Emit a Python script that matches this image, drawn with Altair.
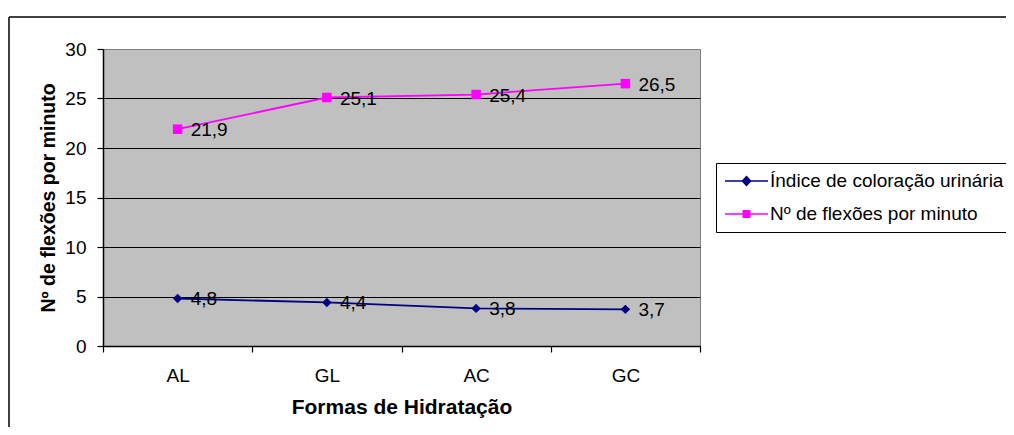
import altair as alt
import pandas as pd

# ---- data ----
categories = ["AL", "GL", "AC", "GC"]
series_names = ["Índice de coloração urinária", "Nº de flexões por minuto"]
indice_values = [4.8, 4.4, 3.8, 3.7]
flexoes_values = [21.9, 25.1, 25.4, 26.5]
y_ticks = [0, 5, 10, 15, 20, 25, 30]
colors = ["#000080", "#FF00FF"]
point_shapes = ["diamond", "square"]

rows = []
for name, vals in zip(series_names, [indice_values, flexoes_values]):
    for c, v in zip(categories, vals):
        rows.append({"cat": c, "serie": name, "valor": v,
                     "rotulo": f"{v:.1f}".replace(".", ",")})
df = pd.DataFrame(rows)

FONT = "Liberation Sans"

# legend symbols: line stub + (filled-looking) marker, in unit coords
diamond_leg = ("M-1,0H1"
               "M-0.19,0L0,-0.2L0.19,0L0,0.2Z"
               "M-0.13,0L0,-0.14L0.13,0L0,0.14Z"
               "M-0.07,0L0,-0.08L0.07,0L0,0.08Z"
               "M-0.02,0L0,-0.02L0.02,0L0,0.02Z")
square_leg = ("M-1,0H1"
              "M-0.15,-0.15H0.15V0.15H-0.15Z"
              "M-0.09,-0.09H0.09V0.09H-0.09Z"
              "M-0.03,-0.03H0.03V0.03H-0.03Z")

x_enc = alt.X(
    "cat:N", sort=categories,
    scale=alt.Scale(type="band", paddingInner=0, paddingOuter=0),
    axis=alt.Axis(title="Formas de Hidratação", labelAngle=0, tickBand="extent",
                  domainColor="black", domainWidth=1.5, tickColor="black",
                  tickSize=6, tickWidth=1.2, labelFont=FONT, labelFontSize=19,
                  labelColor="black", labelPadding=14, titleFont=FONT,
                  titleFontSize=21, titleFontWeight="bold", titleColor="black",
                  titlePadding=11, grid=False),
)
y_enc = alt.Y(
    "valor:Q",
    scale=alt.Scale(domain=[0, 30], nice=False),
    axis=alt.Axis(values=y_ticks, title="Nº de flexões por minuto", grid=True,
                  gridColor={"condition": {"test": "datum.value === 30", "value": "#808080"},
                             "value": "black"},
                  gridWidth=1.2, domainColor="black", domainWidth=1.5,
                  tickColor="black", tickSize=6, tickWidth=1.2,
                  labelFont=FONT, labelFontSize=19, labelColor="black",
                  labelPadding=11, titleFont=FONT, titleFontSize=19.5,
                  titleFontWeight="bold", titleColor="black", titlePadding=6),
)
color_scale = alt.Scale(domain=series_names, range=colors)

base = alt.Chart(df)
one = alt.Data(values=[{"f": 1}])

frame_top = alt.Chart(one).mark_rule(color="black", strokeWidth=1.5).encode(
    x=alt.value(-94), x2=alt.value(1300), y=alt.value(-32))
frame_left = alt.Chart(one).mark_rule(color="black", strokeWidth=1.5).encode(
    x=alt.value(-94), y=alt.value(-32), y2=alt.value(700))

series_layers = []
for name, col, shp in zip(series_names, colors, point_shapes):
    sub = base.transform_filter(alt.datum.serie == name)
    series_layers.append(sub.mark_line(strokeWidth=1.8, color=col).encode(x=x_enc, y=y_enc))
    series_layers.append(sub.mark_point(filled=True, shape=shp, size=90, opacity=1,
                                        color=col).encode(x=x_enc, y=y_enc))

labels = base.mark_text(
    align="left", baseline="middle", dx=13, dy=1, font=FONT, fontSize=19, color="black"
).encode(x=x_enc, y=y_enc, text="rotulo:N")

leg_props = dict(title=None, orient="none", legendX=613, legendY=114,
                 direction="vertical", labelFont=FONT, labelFontSize=19,
                 labelColor="black", labelOffset=1, labelLimit=500,
                 symbolSize=1849, symbolStrokeWidth=1.5, symbolOpacity=1,
                 symbolOffset=0, strokeColor="black", fillColor="white",
                 padding=8, rowPadding=13, clipHeight=20)

legend_layer = base.mark_point(filled=False, opacity=0, strokeWidth=1.5).encode(
    x=x_enc, y=y_enc,
    color=alt.Color("serie:N", scale=color_scale, legend=alt.Legend(**leg_props)),
    shape=alt.Shape("serie:N", scale=alt.Scale(domain=series_names,
                                               range=[diamond_leg, square_leg]),
                    legend=alt.Legend(**leg_props)),
)

chart = alt.layer(frame_top, frame_left, *series_layers, labels, legend_layer).properties(
    width=597, height=297,
    autosize=alt.AutoSizeParams(type="none"),
    padding={"left": 95, "top": 41, "right": 306, "bottom": 81},
    background="white",
).configure_view(fill="#C0C0C0", stroke="#808080", strokeWidth=1)

chart.save("out.html", embed_options={"renderer": "svg", "actions": False})
